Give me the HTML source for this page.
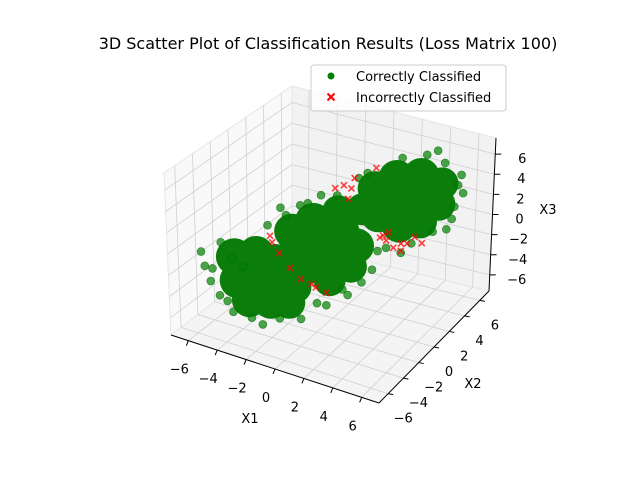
<!DOCTYPE html>
<html><head><meta charset="utf-8"><style>
body{margin:0;background:#fff}
svg{display:block;font-family:"DejaVu Sans","Liberation Sans",sans-serif}
</style></head><body>
<svg id="chart" width="640" height="480" viewBox="0 0 640 480">
<rect width="640" height="480" fill="#fff"/>
<text x="328" y="49" font-size="16" text-anchor="middle">3D Scatter Plot of Classification Results (Loss Matrix 100)</text>
<g id="box"></g>
<g id="cores"></g>
<g id="pts"></g>
<g id="axes"></g>
<g>
<rect x="311" y="65" width="195" height="46" rx="3" fill="#fff" fill-opacity="0.8" stroke="#ccc"/>
<circle cx="331" cy="76" r="3.5" fill="#008000"/>
<text x="356" y="81" font-size="13">Correctly Classified</text>
<path d="M327.5 93.5l7 7M334.5 93.5l-7 7" stroke="#f00" stroke-width="2"/>
<text x="356" y="102" font-size="13">Incorrectly Classified</text>
</g>
</svg>
<script>
// ---- data ----
const tickValues=[-6,-4,-2,0,2,4,6];
const tickLabels=["\u22126","\u22124","\u22122","0","2","4","6"];
const coreX1=[-4.33,-3.38,-2.52,-4.19,-3.24,-2.29,-1.67,-3.71,-2.76,-1.95,
 -1.81,-0.86,0.24,-0.86,0.33,1.05,-1.1,0.1,0.81,-0.14,
 1.86,2.81,3.9,4.86,2.48,3.67,4.71,2.95,3.9,2.0,
 -3.1,-0.38,3.43,1.29,-1.57];
const coreX2=coreX1.slice();
const coreX3=[-0.74,-0.72,-1.67,-2.98,-3.06,-3.54,-4.22,-4.92,-5.2,-5.63,
 1.12,1.85,2.53,-0.45,0.5,-1.0,-2.38,-2.23,-2.93,-3.96,
 4.26,4.99,4.87,3.89,2.58,2.74,1.93,0.44,0.47,1.72,
 -3.3,-0.59,2.31,2.43,-1.24];
const coreR=[1.15,1.15,1.15,1.15,1.15,1.15,1.0,1.1,1.15,1.0,
 1.1,1.15,1.0,1.15,1.2,1.1,1.1,1.2,1.0,1.0,
 1.1,1.15,1.15,1.0,1.15,1.2,1.05,1.1,1.05,1.1,
 1.6,1.6,1.6,1.0,1.0];
const greenX1=[-5.76,-5.62,-5.38,-5.0,-4.9,-4.43,-3.62,-3.14,-2.38,-1.43,-0.29,0.67,0.43,1.76,-1.43,-2.05,-2.86,-0.52,3.05,4.62,4.14,4.95,5.71,5.57,5.43,5.1,4.48,3.52,3.05,1.14,0.19,2.38,-4.43,-3.95,
 -5.29,-4.67,-0.71,1.29,-2.29,-1.1,1.52,5.81,5.33,2.0];
const greenX2=greenX1.slice();
const greenX3=[0.0,-1.37,-2.84,-4.25,0.72,-5.92,-6.65,-7.39,-7.0,-7.29,-6.3,-5.6,-5.0,-3.5,3.5,2.7,1.93,4.25,6.9,7.16,6.9,5.86,4.44,3.48,1.43,-0.68,-0.7,-1.52,-2.28,5.47,4.05,-1.59,-0.92,-1.75,
 -1.67,-4.85,-5.99,-4.57,3.46,3.62,5.86,2.62,0.25,-1.78];
const redX1=[0.1,0.48,0.81,0.67,1.9,0.95,2.1,2.38,3.05,3.33,4.0,2.71,3.05,2.24,-2.76,-2.67,-0.95,-0.29,-0.76,-2.38,-1.9,-1.43,2.48,3.67];
const redX2=redX1.slice();
const redX3=[4.77,4.96,4.57,3.61,6.25,5.52,-0.51,-0.89,-1.38,-1.47,-1.66,-1.69,-2.08,-0.35,0.9,0.27,-4.12,-5.12,-4.48,-0.81,-2.35,-3.49,-0.12,-0.96];

// ---- projection (trilinear between box corners) ----
const R1=7.2,R2=7.2,R3=7.6;
const C={"000":[171,335],"100":[379,403],"110":[489,291],"010":[292,243],"001":[164,173],"011":[292,86],"111":[496,138],"101":[380,238]};
function P(x1,x2,x3){
  const u=(x1+R1)/(2*R1),v=(x2+R2)/(2*R2),w=(x3+R3)/(2*R3);
  let X=0,Y=0;
  for(const i of [0,1])for(const j of [0,1])for(const k of [0,1]){
    const wt=(i?u:1-u)*(j?v:1-v)*(k?w:1-w);const c=C[""+i+j+k];X+=wt*c[0];Y+=wt*c[1];}
  return [X,Y];
}
const NS="http://www.w3.org/2000/svg";
function mk(tag,attrs,parent){const e=document.createElementNS(NS,tag);for(const k in attrs)e.setAttribute(k,attrs[k]);parent.appendChild(e);return e;}
const box=document.getElementById('box'),axes=document.getElementById('axes');
function poly(pts,fill,name){const e=mk('polygon',{points:pts.map(p=>p.join(',')).join(' '),fill:fill,stroke:'#e6e6e6'},box);

}
poly([P(-R1,-R2,-R3),P(-R1,R2,-R3),P(-R1,R2,R3),P(-R1,-R2,R3)],'#f9f9f9','x1-pane');
poly([P(-R1,R2,-R3),P(R1,R2,-R3),P(R1,R2,R3),P(-R1,R2,R3)],'#f2f2f2','x2-pane');
poly([P(-R1,-R2,-R3),P(R1,-R2,-R3),P(R1,R2,-R3),P(-R1,R2,-R3)],'#f4f4f4','floor-pane');
function line(a,b,parent,st,sw,name){const e=mk('line',{x1:a[0],y1:a[1],x2:b[0],y2:b[1],stroke:st,'stroke-width':sw},parent);

return e;}
tickValues.forEach(t=>{
  line(P(t,-R2,-R3),P(t,R2,-R3),box,'#d0d0d0',0.8,'grid-x1');
  line(P(t,R2,-R3),P(t,R2,R3),box,'#d0d0d0',0.8,'grid-x1');
  line(P(-R1,t,-R3),P(R1,t,-R3),box,'#d0d0d0',0.8,'grid-x2');
  line(P(-R1,t,-R3),P(-R1,t,R3),box,'#d0d0d0',0.8,'grid-x2');
  line(P(-R1,-R2,t),P(-R1,R2,t),box,'#d0d0d0',0.8,'grid-x3');
  line(P(-R1,R2,t),P(R1,R2,t),box,'#d0d0d0',0.8,'grid-x3');
});
// cores
const cores=document.getElementById('cores');
coreX1.forEach((x,i)=>{const p=P(x,coreX2[i],coreX3[i]);
  const c=mk('circle',{cx:p[0],cy:p[1],r:coreR[i]*16,fill:'#0b7d0b'},cores);
  
  });
const pts=document.getElementById('pts');
greenX1.forEach((x,i)=>{const p=P(x,greenX2[i],greenX3[i]);
  const c=mk('circle',{cx:p[0],cy:p[1],r:4,fill:'#008000','fill-opacity':0.7,stroke:'#006400','stroke-opacity':0.7,'stroke-width':0.6},pts);
  
  });
redX1.forEach((x,i)=>{const p=P(x,redX2[i],redX3[i]);
  const c=mk('path',{d:`M${p[0]-3} ${p[1]-3}l6 6M${p[0]+3} ${p[1]-3}l-6 6`,stroke:'#f00','stroke-opacity':0.75,'stroke-width':1.6},pts);
  
  });
// axes
line(P(-R1,-R2,-R3),P(R1,-R2,-R3),axes,'#000',1,'x1-axis-line');
line(P(R1,-R2,-R3),P(R1,R2,-R3),axes,'#000',1,'x2-axis-line');
line(P(R1,R2,-R3),P(R1,R2,R3),axes,'#000',1,'x3-axis-line');
function txt(x,y,s,name){const e=mk('text',{x:x,y:y,'font-size':13,'text-anchor':'middle'},axes);e.textContent=s;

}
tickValues.forEach((t,i)=>{
  let a=P(t,-R2,-R3);line(a,[a[0]-2,a[1]+5],axes,'#000',1,'x1-tick');txt(a[0]-9,a[1]+33,tickLabels[i],'x1-tick-label');
  a=P(R1,t,-R3);line(a,[a[0]+5,a[1]+1],axes,'#000',1,'x2-tick');txt(a[0]+15,a[1]+29,tickLabels[i],'x2-tick-label');
  a=P(R1,R2,t);line(a,[a[0]+6,a[1]],axes,'#000',1,'x3-tick');txt(a[0]+27,a[1]+9,tickLabels[i],'x3-tick-label');
});
txt(250,423,'X1','x1-axis-title');
txt(473,388,'X2','x2-axis-title');
txt(548,214,'X3','x3-axis-title');
</script>
</body></html>
